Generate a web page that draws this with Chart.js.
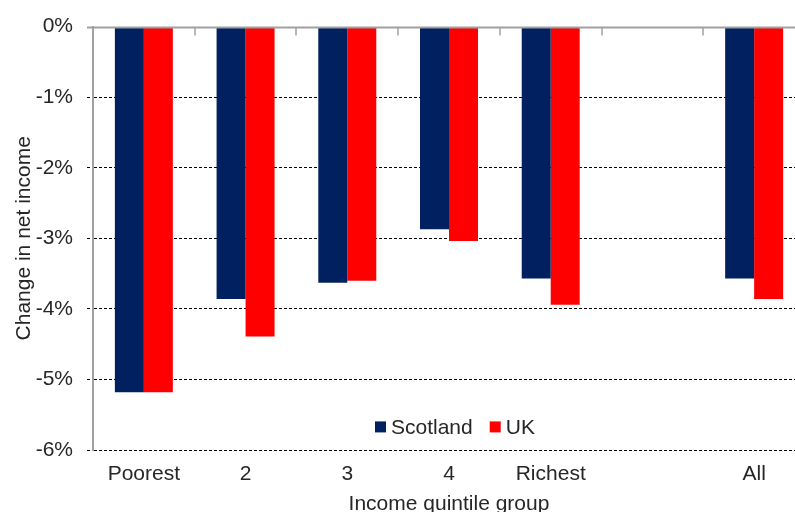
<!DOCTYPE html>
<html lang="en">
<head>
    <meta charset="UTF-8">
    <title>Change in net income by income quintile</title>
    <script src="https://cdn.jsdelivr.net/npm/chart.js"></script>
    <style>
        body {
            margin: 0;
            padding: 0;
            background-color: #ffffff;
            overflow: hidden;
        }
        #wrap {
            width: 810px;
            height: 512px;
        }
    </style>
</head>
<body>
    <div id="wrap">
        <canvas id="incomeChart" width="810" height="512"></canvas>
    </div>

    <script>
        const groups = ["Poorest", "2", "3", "4", "Richest", "", "All"];
        const scotland = [-5.18, -3.86, -3.63, -2.87, -3.57, null, -3.57];
        const uk = [-5.18, -4.39, -3.60, -3.04, -3.94, null, -3.86];
        const yTicks = [0, -1, -2, -3, -4, -5, -6];

        const navy = "#002060";
        const red = "#ff0000";
        const textColor = "#262626";
        const font = "Liberation Sans, Arial, sans-serif";
        const fontSize = 21;

        // zero line along the top plus small ticks between groups, and the legend inside the plot
        const frame = {
            id: "frame",
            afterDraw(chart) {
                const ctx = chart.ctx;
                const x = chart.scales.x;
                const y = chart.scales.y;
                const area = chart.chartArea;
                const y0 = Math.round(y.getPixelForValue(0)) + 0.5;

                ctx.save();
                ctx.strokeStyle = "#a0a0a0";
                ctx.lineWidth = 2;
                ctx.beginPath();
                ctx.moveTo(area.left - 6, y0);
                ctx.lineTo(area.right, y0);
                ctx.stroke();

                ctx.lineWidth = 1.5;
                for (let i = 0; i < groups.length - 1; i++) {
                    const bx = Math.round((x.getPixelForValue(i) + x.getPixelForValue(i + 1)) / 2);
                    ctx.beginPath();
                    ctx.moveTo(bx, y0);
                    ctx.lineTo(bx, y0 + 8);
                    ctx.stroke();
                }

                // legend
                const ly = y.getPixelForValue(-5.68);
                let lx = area.left + 282;
                ctx.font = fontSize + "px " + font;
                ctx.textBaseline = "middle";
                ctx.fillStyle = navy;
                ctx.fillRect(lx, ly - 6, 11, 11);
                ctx.fillStyle = textColor;
                ctx.fillText("Scotland", lx + 16, ly + 1);
                lx += 16 + ctx.measureText("Scotland").width + 17;
                ctx.fillStyle = red;
                ctx.fillRect(lx, ly - 6, 11, 11);
                ctx.fillStyle = textColor;
                ctx.fillText("UK", lx + 16, ly + 1);
                ctx.restore();
            }
        };

        const ctx = document.getElementById("incomeChart").getContext("2d");
        new Chart(ctx, {
            type: "bar",
            data: {
                labels: groups,
                datasets: [
                    {
                        label: "Scotland",
                        data: scotland,
                        backgroundColor: navy,
                        categoryPercentage: 0.57,
                        barPercentage: 1.0
                    },
                    {
                        label: "UK",
                        data: uk,
                        backgroundColor: red,
                        categoryPercentage: 0.57,
                        barPercentage: 1.0
                    }
                ]
            },
            options: {
                responsive: false,
                animation: false,
                layout: {
                    padding: { top: 25, right: 5, left: 0, bottom: 0 }
                },
                plugins: {
                    legend: { display: false },
                    tooltip: { enabled: false }
                },
                scales: {
                    x: {
                        grid: { display: false, drawTicks: false },
                        border: { display: false },
                        ticks: {
                            color: textColor,
                            font: { family: font, size: fontSize },
                            padding: 12,
                            maxRotation: 0
                        },
                        title: {
                            display: true,
                            text: "Income quintile group",
                            color: textColor,
                            font: { family: font, size: fontSize },
                            padding: { top: 0, bottom: -5 }
                        },
                        afterFit(scale) {
                            scale.height = 62;
                        }
                    },
                    y: {
                        min: -6,
                        max: 0,
                        afterBuildTicks(scale) {
                            scale.ticks = yTicks.map(v => ({ value: v }));
                        },
                        ticks: {
                            color: textColor,
                            font: { family: font, size: fontSize },
                            padding: 14,
                            callback: v => v + "%"
                        },
                        grid: {
                            color: c => (c.tick && c.tick.value === 0) ? "rgba(0,0,0,0)" : "#000000",
                            lineWidth: 1,
                            tickLength: 6,
                            tickBorderDash: [3, 2]
                        },
                        border: {
                            color: "#a0a0a0",
                            width: 2,
                            dash: [3, 2]
                        },
                        title: {
                            display: true,
                            text: "Change in net income",
                            color: textColor,
                            font: { family: font, size: fontSize },
                            padding: { top: 12, bottom: 0 }
                        },
                        afterFit(scale) {
                            scale.width = 93;
                        }
                    }
                }
            },
            plugins: [frame]
        });
    </script>
</body>
</html>
